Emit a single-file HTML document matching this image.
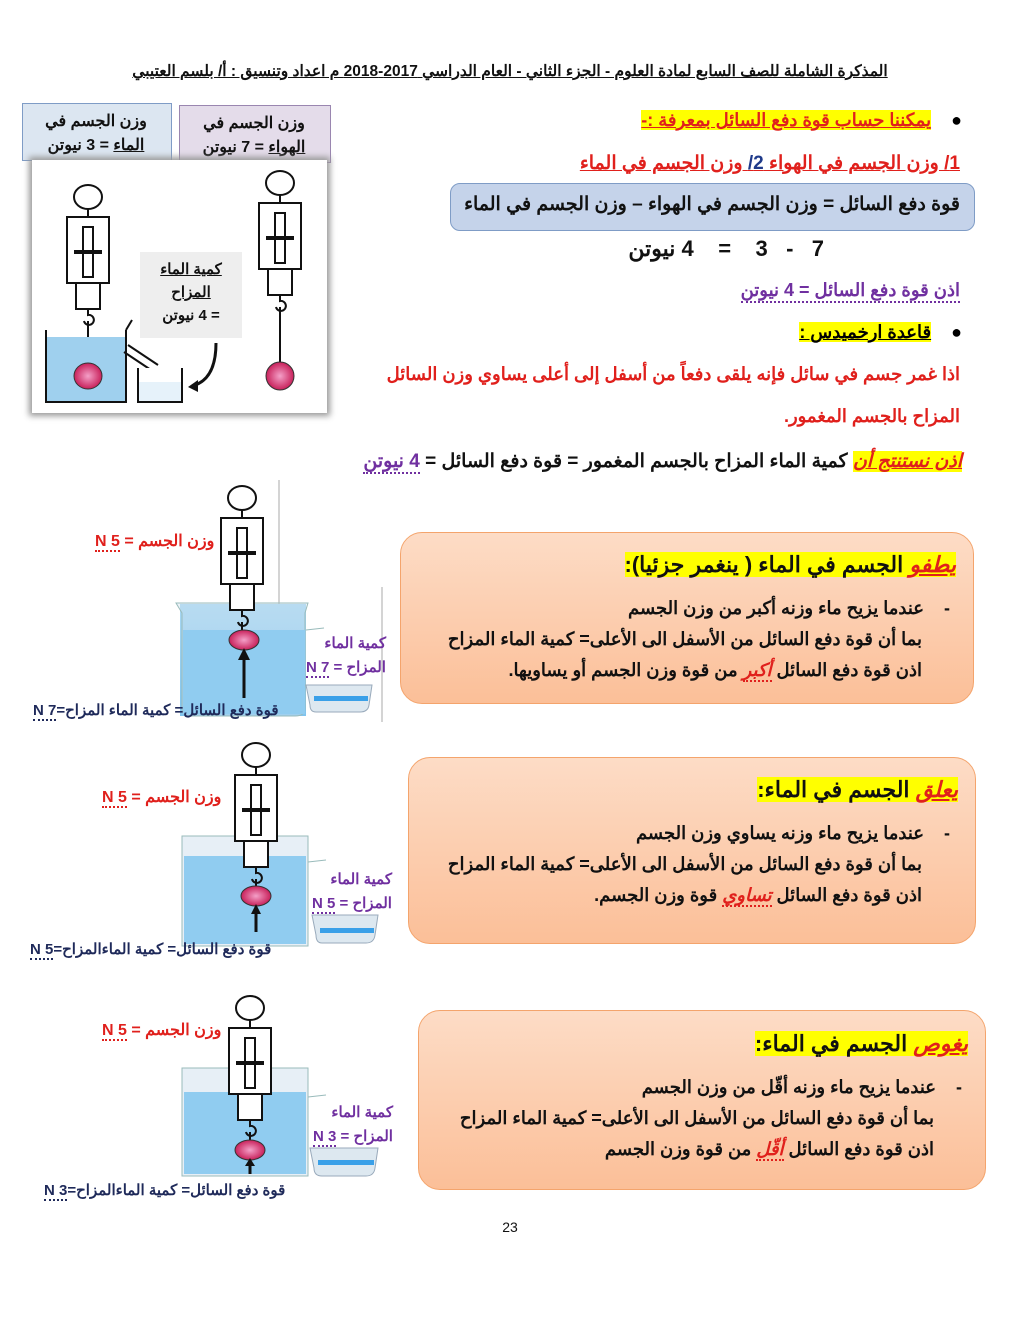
<!DOCTYPE html>
<html><head><meta charset="utf-8">
<style>
body{margin:0;width:1020px;height:1320px;background:#fff;position:relative;overflow:hidden;font-family:"Liberation Sans","Noto Sans CJK SC",sans-serif;font-weight:bold}
.a{position:absolute;direction:rtl;white-space:nowrap}
.r{color:#e0201c}.p{color:#7030a0}.b{color:#1f2a5a}
.hl{background:#ffff00}
.box{position:absolute;border:1.5px solid #f4a46c;border-radius:22px;background:linear-gradient(#fddcc6,#fbbf98)}
.dot{border-bottom:2px dotted #e0201c}
</style></head><body>
<div class="a" style="left:100px;top:62px;width:820px;text-align:center;font-size:15.5px;text-decoration:underline;color:#111">المذكرة الشاملة للصف السابع لمادة العلوم - الجزء الثاني - العام الدراسي 2017-2018 م اعداد وتنسيق : أ/ بلسم العتيبي</div>

<div style="position:absolute;left:22px;top:103px;width:148px;height:56px;background:#dce6f1;border:1.5px solid #7f9cc6"></div>
<div class="a" style="left:22px;top:110px;width:148px;text-align:center;font-size:16px;line-height:24px;color:#111">وزن الجسم في<br><u>الماء</u> = 3 نيوتن</div>
<div style="position:absolute;left:179px;top:105px;width:150px;height:56px;background:#e4dcea;border:1.5px solid #9a86b0"></div>
<div class="a" style="left:179px;top:112px;width:150px;text-align:center;font-size:16px;line-height:24px;color:#111">وزن الجسم في<br><u>الهواء</u> = 7 نيوتن</div>
<div style="position:absolute;left:32px;top:160px;width:295px;height:253px;background:#fff;box-shadow:0 0 6px 3px #999"></div>
<div style="position:absolute;left:140px;top:252px;width:102px;height:86px;background:#eeeeee"></div>
<div class="a" style="left:140px;top:258px;width:102px;text-align:center;font-size:15px;line-height:23px;color:#111"><u>كمية الماء</u><br><u>المزاح</u><br>= 4 نيوتن</div>

<svg width="1020" height="1320" style="position:absolute;left:0;top:0" xmlns="http://www.w3.org/2000/svg">
<defs>
<g id="sc" stroke="#111" stroke-width="2" fill="#fff">
<ellipse cx="0" cy="0" rx="14" ry="12"/>
<line x1="0" y1="12" x2="0" y2="20"/>
<rect x="-21" y="20" width="42" height="66"/>
<rect x="-5" y="30" width="10" height="50"/>
<line x1="-14" y1="55" x2="14" y2="55" stroke-width="4"/>
<rect x="-12" y="86" width="24" height="26"/>
<path d="M0 112 v6 a5 5 0 1 1 -4 6 M0 124 v10" fill="none"/>
</g>
<radialGradient id="ball"><stop offset="0" stop-color="#f4a0c8"/><stop offset="1" stop-color="#c8205a"/></radialGradient>
<linearGradient id="wat" x1="0" y1="0" x2="0" y2="1"><stop offset="0" stop-color="#a8d8f4"/><stop offset="1" stop-color="#80c4ee"/></linearGradient>
</defs>
<use href="#sc" x="88" y="197"/>
<line x1="88" y1="330" x2="88" y2="362" stroke="#111" stroke-width="2"/>
<rect x="46" y="337" width="80" height="65" fill="#9fd0ee"/>
<path d="M46 330 V402 H126 V330 M126 330 l6 -10" stroke="#111" stroke-width="2" fill="none"/>
<path d="M128 345 l30 20 M124 352 l30 20" stroke="#111" stroke-width="2"/>
<path d="M138 368 V402 H182 V368" stroke="#111" stroke-width="2" fill="#fff"/>
<rect x="139" y="382" width="42" height="19" fill="#e6f2fa"/>
<ellipse cx="88" cy="376" rx="14" ry="13" fill="url(#ball)" stroke="#333"/>
<path d="M216 343 Q216 380 192 386" stroke="#111" stroke-width="3" fill="none"/><path d="M188 387 l10 -7 l0 12z" fill="#111"/>
<use href="#sc" x="280" y="183"/>
<line x1="280" y1="316" x2="280" y2="362" stroke="#111" stroke-width="2"/>
<ellipse cx="280" cy="376" rx="14" ry="14" fill="url(#ball)" stroke="#333"/>

<line x1="279" y1="480" x2="279" y2="655" stroke="#aaa"/>
<line x1="382" y1="587" x2="382" y2="722" stroke="#aaa"/>
<rect x="180" y="604" width="126" height="112" fill="url(#wat)"/>
<path d="M176 603 H308 l-3 10 V708 Q305 716 295 716 H190 Q182 716 182 708 V613z" fill="#cfe0ee" fill-opacity="0.4" stroke="#9bb" />
<rect x="183" y="630" width="122" height="84" fill="#90ccf0"/>
<path d="M306 630 l18 -2" stroke="#9bb"/>
<use href="#sc" x="242" y="498"/>
<ellipse cx="244" cy="640" rx="15" ry="10" fill="url(#ball)" stroke="#333"/>
<line x1="244" y1="698" x2="244" y2="656" stroke="#111" stroke-width="3"/><path d="M238 660 l6 -12 l6 12z" fill="#111"/>
<path d="M306 685 H372 l-3 20 Q368 712 360 712 H316 Q310 712 310 705z" fill="#dde8f0" stroke="#9ab"/>
<rect x="314" y="696" width="54" height="5" fill="#3aa0e8"/>
<rect x="182" y="836" width="126" height="110" fill="#cfe0ee" fill-opacity="0.5" stroke="#9bb"/>
<rect x="184" y="856" width="122" height="88" fill="#90ccf0"/>
<path d="M308 862 l18 -2" stroke="#9bb"/>
<use href="#sc" x="256" y="755"/>
<ellipse cx="256" cy="896" rx="15" ry="10" fill="url(#ball)" stroke="#333"/>
<line x1="256" y1="932" x2="256" y2="912" stroke="#111" stroke-width="3"/><path d="M251 914 l5 -10 l5 10z" fill="#111"/>
<path d="M312 915 H378 l-3 20 Q374 943 366 943 H322 Q316 943 316 935z" fill="#dde8f0" stroke="#9ab"/>
<rect x="320" y="928" width="54" height="5" fill="#3aa0e8"/>
<rect x="182" y="1068" width="126" height="108" fill="#cfe0ee" fill-opacity="0.5" stroke="#9bb"/>
<rect x="184" y="1092" width="122" height="82" fill="#90ccf0"/>
<path d="M308 1097 l18 -2" stroke="#9bb"/>
<use href="#sc" x="250" y="1008"/>
<ellipse cx="250" cy="1150" rx="15" ry="10" fill="url(#ball)" stroke="#333"/>
<line x1="250" y1="1174" x2="250" y2="1164" stroke="#111" stroke-width="3"/><path d="M245 1166 l5 -8 l5 8z" fill="#111"/>
<path d="M310 1148 H378 l-3 20 Q374 1176 366 1176 H322 Q314 1176 314 1168z" fill="#dde8f0" stroke="#9ab"/>
<rect x="318" y="1160" width="56" height="5" fill="#3aa0e8"/>
</svg>

<div class="a" style="right:58px;top:110px;font-size:18px">● &nbsp;&nbsp; <span class="hl r" style="text-decoration:underline">يمكننا حساب قوة دفع السائل بمعرفة :-</span></div>
<div class="a r" style="right:60px;top:152px;font-size:19px;text-decoration:underline">1/ وزن الجسم في الهواء <span style="color:#1f3a8a">2/</span> وزن الجسم في الماء</div>
<div style="position:absolute;left:450px;top:183px;width:523px;height:46px;background:#c5d3ea;border:1.5px solid #7f9cc6;border-radius:10px"></div>
<div class="a" style="right:60px;top:193px;font-size:19px;color:#111">قوة دفع السائل = وزن الجسم في الهواء – وزن الجسم في الماء</div>
<div class="a" style="right:196px;top:236px;font-size:22px;color:#111">7 &nbsp; - &nbsp; 3 &nbsp;&nbsp; = &nbsp;&nbsp; 4 نيوتن</div>
<div class="a p" style="right:60px;top:280px;font-size:18px;border-bottom:2px dotted #7030a0">اذن قوة دفع السائل = 4 نيوتن</div>
<div class="a" style="right:58px;top:322px;font-size:18px">● &nbsp;&nbsp; <span class="hl" style="text-decoration:underline">قاعدة ارخميدس :</span></div>
<div class="a r" style="right:60px;top:364px;font-size:18px">اذا غمر جسم في سائل فإنه يلقى دفعاً من أسفل إلى أعلى يساوي وزن السائل</div>
<div class="a r" style="right:60px;top:406px;font-size:18px">المزاح بالجسم المغمور.</div>
<div class="a" style="right:58px;top:450px;font-size:19px;color:#111"><span class="hl r" style="text-decoration:underline;font-style:italic">اذن نستنتج أن</span> كمية الماء المزاح بالجسم المغمور = قوة دفع السائل = <span class="p" style="border-bottom:2px dotted #7030a0">4 نيوتن</span></div>

<div class="a r" style="left:95px;top:531px;font-size:16px">وزن الجسم = <span class="dot">N 5</span></div>
<div class="a p" style="left:306px;top:632px;font-size:15px;line-height:24px;text-align:right">كمية الماء<br>المزاح = <span style="border-bottom:2px dotted #7030a0">N 7</span></div>
<div class="a b" style="left:33px;top:701px;font-size:15px">قوة دفع السائل= كمية الماء المزاح=<span style="border-bottom:2px dotted #1f2a5a">N 7</span></div>
<div class="a r" style="left:102px;top:787px;font-size:16px">وزن الجسم = <span class="dot">N 5</span></div>
<div class="a p" style="left:312px;top:868px;font-size:15px;line-height:24px;text-align:right">كمية الماء<br>المزاح = <span style="border-bottom:2px dotted #7030a0">N 5</span></div>
<div class="a b" style="left:30px;top:940px;font-size:15px">قوة دفع السائل= كمية الماءالمزاح=<span style="border-bottom:2px dotted #1f2a5a">N 5</span></div>
<div class="a r" style="left:102px;top:1020px;font-size:16px">وزن الجسم = <span class="dot">N 5</span></div>
<div class="a p" style="left:313px;top:1101px;font-size:15px;line-height:24px;text-align:right">كمية الماء<br>المزاح = <span style="border-bottom:2px dotted #7030a0">N 3</span></div>
<div class="a b" style="left:44px;top:1181px;font-size:15px">قوة دفع السائل= كمية الماءالمزاح=<span style="border-bottom:2px dotted #1f2a5a">N 3</span></div>

<div class="box" style="left:400px;top:532px;width:572px;height:170px"></div>
<div class="a" style="right:64px;top:552px;font-size:22px;color:#111"><span class="hl"><span class="r" style="text-decoration:underline;font-style:italic">يطفو</span> الجسم في الماء ( ينغمر جزئيا):</span></div>
<div class="a" style="right:70px;top:593px;font-size:18px;line-height:31px;color:#111;text-align:right">-&nbsp;&nbsp;&nbsp; عندما يزيح ماء وزنه أكبر من وزن الجسم<br><span style="margin-right:28px"></span>بما أن قوة دفع السائل من الأسفل الى الأعلى= كمية الماء المزاح<br><span style="margin-right:28px"></span>اذن قوة دفع السائل <span class="r dot" style="font-style:italic">أكبر</span> من قوة وزن الجسم أو يساويها.</div>

<div class="box" style="left:408px;top:757px;width:566px;height:185px"></div>
<div class="a" style="right:62px;top:777px;font-size:22px;color:#111"><span class="hl"><span class="r" style="text-decoration:underline;font-style:italic">يعلق</span> الجسم في الماء:</span></div>
<div class="a" style="right:70px;top:818px;font-size:18px;line-height:31px;color:#111;text-align:right">-&nbsp;&nbsp;&nbsp; عندما يزيح ماء وزنه يساوي وزن الجسم<br><span style="margin-right:28px"></span>بما أن قوة دفع السائل من الأسفل الى الأعلى= كمية الماء المزاح<br><span style="margin-right:28px"></span>اذن قوة دفع السائل <span class="r dot" style="font-style:italic">تساوي</span> قوة وزن الجسم.</div>

<div class="box" style="left:418px;top:1010px;width:566px;height:178px"></div>
<div class="a" style="right:52px;top:1031px;font-size:22px;color:#111"><span class="hl"><span class="r" style="text-decoration:underline;font-style:italic">يغوص</span> الجسم في الماء:</span></div>
<div class="a" style="right:58px;top:1072px;font-size:18px;line-height:31px;color:#111;text-align:right">-&nbsp;&nbsp;&nbsp; عندما يزيح ماء وزنه أقّل من وزن الجسم<br><span style="margin-right:28px"></span>بما أن قوة دفع السائل من الأسفل الى الأعلى= كمية الماء المزاح<br><span style="margin-right:28px"></span>اذن قوة دفع السائل <span class="r dot" style="font-style:italic">أقّل</span> من قوة وزن الجسم</div>

<div style="position:absolute;left:0;width:1020px;top:1219px;text-align:center;font-size:14px;font-weight:normal;color:#111">23</div>
</body></html>
